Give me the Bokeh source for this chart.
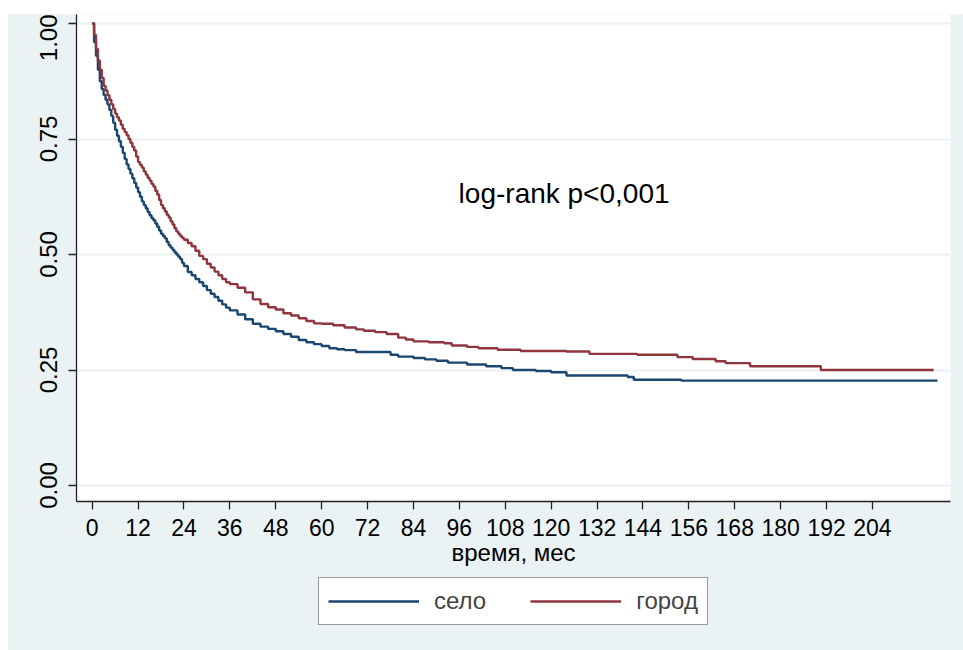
from bokeh.plotting import figure
from bokeh.models import Range1d, FixedTicker, Legend, LegendItem, Spacer, Label
from bokeh.layouts import column, row
from bokeh.embed import file_html
from bokeh.resources import INLINE

# ---- data ----
selo_t = [0, 0.5, 1, 1.5, 2, 2.5, 3, 3.5, 4, 4.5, 5, 5.5, 6, 6.5, 7, 7.5, 8, 8.5, 9, 9.5,
          10, 10.5, 11, 11.5, 12, 12.5, 13, 13.5, 14, 14.5, 15, 15.5, 16, 16.5, 17, 17.5,
          18, 18.5, 19, 19.5, 20, 20.5, 21, 21.5, 22, 22.5, 23, 23.5, 24, 25, 26, 27, 28,
          29, 30, 31, 32, 33, 34, 35, 36, 38, 40, 42, 44, 46, 48, 50, 52, 54, 56, 58, 60,
          62, 64, 66, 69, 78, 80, 84, 87, 90, 93, 98, 103, 107, 110, 116, 120, 124, 140,
          141.6, 154, 221]
selo_s = [1.0, 0.96, 0.93, 0.90, 0.875, 0.858, 0.845, 0.835, 0.825, 0.813, 0.80, 0.785,
          0.77, 0.757, 0.745, 0.733, 0.72, 0.707, 0.695, 0.685, 0.675, 0.665, 0.655, 0.645,
          0.635, 0.625, 0.615, 0.607, 0.60, 0.592, 0.585, 0.579, 0.574, 0.567, 0.56, 0.552,
          0.545, 0.54, 0.535, 0.527, 0.52, 0.515, 0.51, 0.505, 0.50, 0.495, 0.49, 0.482,
          0.475, 0.462, 0.455, 0.447, 0.44, 0.432, 0.423, 0.415, 0.408, 0.40, 0.392, 0.385,
          0.379, 0.37, 0.36, 0.35, 0.344, 0.339, 0.334, 0.328, 0.322, 0.315, 0.31, 0.306,
          0.302, 0.297, 0.295, 0.293, 0.289, 0.283, 0.279, 0.276, 0.273, 0.27, 0.266, 0.262,
          0.258, 0.254, 0.25, 0.248, 0.245, 0.238, 0.235, 0.229, 0.227, 0.227]

gorod_t = [0, 0.5, 1, 1.5, 2, 2.5, 3, 3.5, 4, 4.5, 5, 5.5, 6, 6.5, 7, 7.5, 8, 8.5, 9, 9.5,
           10, 10.5, 11, 11.5, 12, 12.5, 13, 13.5, 14, 14.5, 15, 15.5, 16, 16.5, 17, 17.5,
           18, 18.5, 19, 19.5, 20, 20.5, 21, 21.5, 22, 22.5, 23, 23.5, 24, 25, 26, 27, 28,
           29, 30, 31, 32, 33, 34, 35, 36, 38, 40, 42, 44, 46, 48, 50, 52, 54, 56, 58, 60,
           63, 66, 69, 71, 74, 77, 80, 82, 84, 88, 92, 94, 98, 101, 106, 112, 124, 130,
           142.5, 153, 157, 163, 165.6, 172, 190.5, 220]
gorod_s = [1.0, 0.975, 0.945, 0.92, 0.90, 0.882, 0.865, 0.855, 0.845, 0.835, 0.825, 0.815,
           0.805, 0.797, 0.79, 0.781, 0.772, 0.765, 0.758, 0.75, 0.742, 0.733, 0.725, 0.712,
           0.70, 0.694, 0.688, 0.68, 0.673, 0.666, 0.66, 0.653, 0.647, 0.638, 0.63, 0.618,
           0.607, 0.6, 0.593, 0.586, 0.58, 0.572, 0.565, 0.557, 0.55, 0.545, 0.54, 0.536,
           0.532, 0.525, 0.518, 0.508, 0.497, 0.49, 0.48, 0.472, 0.463, 0.455, 0.447, 0.44,
           0.436, 0.428, 0.418, 0.403, 0.393, 0.386, 0.381, 0.373, 0.368, 0.362, 0.356,
           0.351, 0.35, 0.347, 0.342, 0.338, 0.335, 0.332, 0.328, 0.32, 0.316, 0.312, 0.31,
           0.308, 0.303, 0.30, 0.297, 0.294, 0.291, 0.29, 0.285, 0.283, 0.278, 0.274, 0.269,
           0.265, 0.258, 0.25, 0.25]

series_names = ["село", "город"]
x_ticks = [0, 12, 24, 36, 48, 60, 72, 84, 96, 108, 120, 132, 144, 156, 168, 180, 192, 204]
y_ticks = [0.0, 0.25, 0.5, 0.75, 1.0]
y_tick_labels = ["0.00", "0.25", "0.50", "0.75", "1.00"]
x_label = "время, мес"
annotation = "log-rank p<0,001"

BG = "#EAF2F3"
BLUE = "#1A476F"
RED = "#90353B"
FONT = "Liberation Sans"

# ---- main plot ----
p = figure(width=955, height=561, output_backend="svg", toolbar_location=None,
           x_range=Range1d(-4.1, 224.4), y_range=Range1d(-0.0346, 1.0195),
           min_border_left=68, min_border_right=13, min_border_top=0, min_border_bottom=74)
p.border_fill_color = BG
p.background_fill_color = "white"
p.outline_line_color = None

p.xgrid.grid_line_color = None
p.ygrid.grid_line_color = BG
p.ygrid.grid_line_width = 2

p.xaxis.ticker = FixedTicker(ticks=x_ticks)
p.yaxis.ticker = FixedTicker(ticks=y_ticks)
p.yaxis.major_label_overrides = {t: l for t, l in zip(y_ticks, y_tick_labels)}
p.yaxis.major_label_orientation = "vertical"

for ax in (p.xaxis, p.yaxis):
    ax.axis_line_color = "#222222"
    ax.axis_line_width = 1.3
    ax.major_tick_line_color = "#222222"
    ax.major_tick_line_width = 1.3
    ax.major_tick_out = 8
    ax.major_tick_in = 0
    ax.minor_tick_line_color = None
    ax.major_label_text_font = FONT
    ax.major_label_text_color = "black"

p.xaxis.major_label_text_font_size = "23px"
p.yaxis.major_label_text_font_size = "24px"
p.xaxis.major_label_standoff = 9
p.yaxis.major_label_standoff = 11
p.xaxis.axis_label = x_label
p.xaxis.axis_label_text_font = FONT
p.xaxis.axis_label_text_font_size = "24px"
p.xaxis.axis_label_text_font_style = "normal"
p.xaxis.axis_label_text_color = "black"
p.xaxis.axis_label_standoff = 0

p.step(selo_t, selo_s, mode="after", line_color=BLUE, line_width=2.4)
p.step(gorod_t, gorod_s, mode="after", line_color=RED, line_width=2.4)

p.add_layout(Label(x=95.8, y=0.632, text=annotation, text_font=FONT,
                   text_font_size="28px", text_baseline="middle", text_align="left",
                   text_color="black"))

# ---- legend strip below the plot (same series, kept out of its visible range) ----
q = figure(width=955, height=75, output_backend="svg", toolbar_location=None,
           x_range=Range1d(1000, 1001), y_range=Range1d(0, 1),
           min_border_left=0, min_border_right=0, min_border_top=0, min_border_bottom=0)
q.border_fill_color = BG
q.background_fill_color = BG
q.background_fill_alpha = 0
q.outline_line_color = None
q.axis.visible = False
q.grid.visible = False
l1 = q.step(selo_t, selo_s, mode="after", line_color=BLUE, line_width=2.4)
l2 = q.step(gorod_t, gorod_s, mode="after", line_color=RED, line_width=2.4)

legend = Legend(items=[LegendItem(label=series_names[0], renderers=[l1]),
                       LegendItem(label=series_names[1], renderers=[l2])],
                orientation="horizontal", location=(242, 25))
legend.label_text_font = FONT
legend.label_text_font_size = "24px"
legend.glyph_width = 91
legend.glyph_height = 18
legend.label_standoff = 15
legend.spacing = 44
legend.padding = 9
legend.margin = 0
legend.border_line_color = "#333333"
legend.border_line_width = 1.2
legend.background_fill_color = "white"
legend.background_fill_alpha = 1
q.add_layout(legend, "center")

inner = column(p, q, spacing=0, styles={"background-color": BG})
layout = column(Spacer(height=14), row(Spacer(width=8), inner, spacing=0), spacing=0)

open("out.html", "w").write(file_html(layout, INLINE))
